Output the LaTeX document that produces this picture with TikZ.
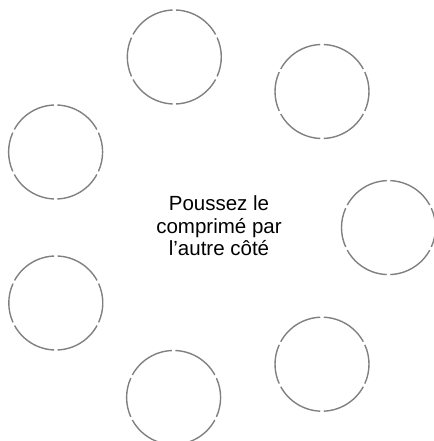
\documentclass[tikz,border=0pt]{standalone}
\usepackage{fontspec}
\setmainfont{Liberation Sans}
\definecolor{ringgray}{RGB}{128,128,128}
\tikzset{
  pill/.style={circle, minimum size=94pt, inner sep=0pt},
  rim/.style={draw=ringgray, line width=1.4pt},
  caption/.style={align=center, inner sep=0pt, font=\fontsize{20.5}{22.5}\selectfont}
}
\begin{document}
\begin{tikzpicture}[x=1pt,y=1pt]
\useasboundingbox (0,0) rectangle (433,441);
\node[pill] (c0) at (388.5,213.4) {};
\node[pill] (c1) at (322,349.5) {};
\node[pill] (c2) at (174.3,384) {};
\node[pill] (c3) at (55.6,289) {};
\node[pill] (c4) at (55.8,138) {};
\node[pill] (c5) at (173.6,43.5) {};
\node[pill] (c6) at (322,76.8) {};
\foreach \c in {c0,c1,c2,c3,c4,c5,c6}{
  \foreach \a/\b in {-24.35/24.35, 28.65/87.85, 92.15/151.35, 155.65/204.35, 208.65/267.85, 272.15/331.35}{
    \draw[rim] ([shift={(\a:47pt)}]\c.center) arc[start angle=\a, end angle=\b, radius=47pt];
  }
}
\node[caption] (t) at (219,215) {Poussez le\\comprimé par\\l’autre côté};
\end{tikzpicture}
\end{document}
